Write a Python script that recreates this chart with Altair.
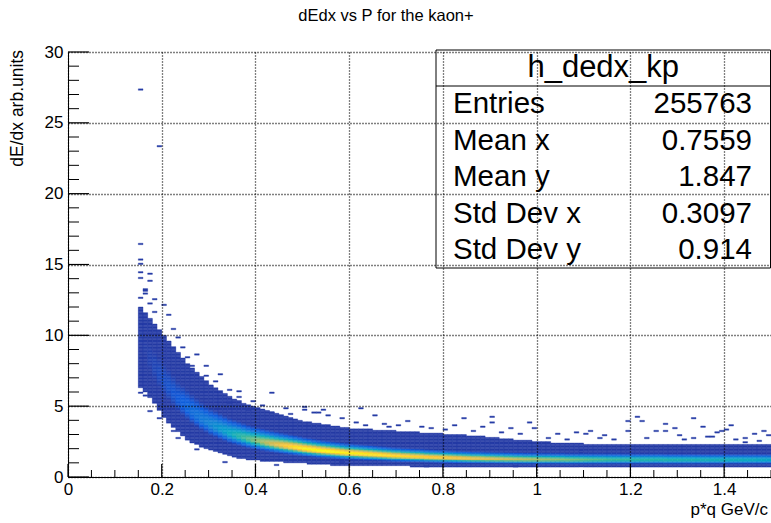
import math
import altair as alt
import pandas as pd

FONT = "Liberation Sans"
W, H = 703, 425
X_BIN, Y_BIN = 0.01, 0.1
FLOOR = 0.045

# ---------------- data ----------------
# left edge of every filled x-bin column (0.15 ... 1.49)
col_x = [round(0.15 + X_BIN * i, 2) for i in range(135)]

# y of the bright ridge (most probable dE/dx) in each column
ridge_y = [
    9.8, 9.0, 8.3, 7.7, 7.2,
    6.7, 6.3, 5.9, 5.5, 5.2,
    4.9, 4.6, 4.35, 4.1, 3.9,
    3.7, 3.55, 3.4, 3.25, 3.1,
    3.0, 2.9, 2.8, 2.7, 2.62,
    2.55, 2.48, 2.42, 2.36, 2.3,
    2.25, 2.2, 2.15, 2.1, 2.05,
    2.0, 1.96, 1.92, 1.88, 1.85,
    1.82, 1.79, 1.76, 1.73, 1.7,
    1.68, 1.66, 1.64, 1.62, 1.6,
    1.58, 1.56, 1.54, 1.52, 1.5,
    1.49, 1.47, 1.46, 1.44, 1.43,
    1.42, 1.4, 1.39, 1.38, 1.37,
    1.36, 1.35, 1.34, 1.33, 1.32,
    1.31, 1.3, 1.3, 1.29, 1.28,
    1.28, 1.27, 1.27, 1.26, 1.26,
    1.25, 1.25, 1.24, 1.24, 1.24,
    1.23, 1.23, 1.23, 1.23, 1.23,
    1.23, 1.22, 1.22, 1.22, 1.22,
    1.22, 1.22, 1.22, 1.22, 1.22,
    1.22, 1.22, 1.22, 1.22, 1.22,
    1.22, 1.22, 1.22, 1.22, 1.22,
    1.22, 1.22, 1.21, 1.21, 1.21,
    1.21, 1.21, 1.21, 1.21, 1.21,
    1.21, 1.21, 1.21, 1.21, 1.21,
    1.21, 1.21, 1.21, 1.21, 1.21,
    1.21, 1.21, 1.21, 1.21, 1.21,
]

# relative height of the ridge (fraction of the maximum bin content)
peak = [
    0.05, 0.05, 0.06, 0.07, 0.08,
    0.09, 0.10, 0.11, 0.12, 0.14,
    0.16, 0.18, 0.20, 0.22, 0.24,
    0.27, 0.30, 0.33, 0.36, 0.40,
    0.44, 0.48, 0.52, 0.56, 0.60,
    0.64, 0.68, 0.72, 0.76, 0.80,
    0.84, 0.88, 0.91, 0.94, 0.96,
    0.98, 0.99, 1.00, 1.00, 1.00,
    1.00, 1.00, 0.99, 0.99, 0.98,
    0.98, 0.97, 0.97, 0.96, 0.96,
    0.95, 0.95, 0.94, 0.94, 0.93,
    0.93, 0.92, 0.92, 0.91, 0.91,
    0.90, 0.90, 0.89, 0.89, 0.88,
    0.88, 0.87, 0.86, 0.86, 0.85,
    0.84, 0.83, 0.82, 0.81, 0.80,
    0.79, 0.78, 0.77, 0.76, 0.75,
    0.74, 0.73, 0.72, 0.71, 0.70,
    0.69, 0.68, 0.67, 0.66, 0.65,
    0.64, 0.63, 0.62, 0.61, 0.60,
    0.59, 0.58, 0.57, 0.56, 0.55,
    0.54, 0.53, 0.53, 0.52, 0.52,
    0.51, 0.51, 0.50, 0.50, 0.50,
    0.49, 0.49, 0.49, 0.48, 0.48,
    0.48, 0.47, 0.47, 0.47, 0.46,
    0.46, 0.46, 0.45, 0.45, 0.45,
    0.45, 0.44, 0.44, 0.44, 0.43,
    0.43, 0.43, 0.42, 0.42, 0.40,
]

# lower and upper edge of the filled band in each column
band_lo = [
    6.3, 6.0, 5.6, 5.2, 4.7,
    4.2, 3.8, 3.5, 3.2, 2.9,
    2.6, 2.45, 2.3, 2.15, 2.0,
    1.9, 1.8, 1.7, 1.6, 1.5,
    1.4, 1.35, 1.3, 1.28, 1.25,
    1.2, 1.18, 1.16, 1.14, 1.12,
    1.1, 1.08, 1.07, 1.06, 1.05,
    1.0, 0.98, 0.96, 0.94, 0.92,
    0.9, 0.88, 0.87, 0.86, 0.85,
    0.85, 0.85, 0.84, 0.84, 0.83,
    0.83, 0.82, 0.82, 0.81, 0.81,
    0.8, 0.8, 0.8, 0.79, 0.79,
    0.79, 0.78, 0.78, 0.78, 0.78,
    0.77, 0.77, 0.77, 0.77, 0.77,
    0.76, 0.76, 0.76, 0.76, 0.76,
    0.75, 0.74, 0.73, 0.72, 0.71,
    0.7, 0.7, 0.7, 0.7, 0.7,
    0.7, 0.7, 0.7, 0.7, 0.7,
    0.7, 0.7, 0.7, 0.7, 0.7,
    0.7, 0.7, 0.7, 0.7, 0.7,
    0.7, 0.7, 0.7, 0.7, 0.7,
    0.7, 0.7, 0.7, 0.7, 0.7,
    0.7, 0.7, 0.7, 0.7, 0.7,
    0.7, 0.7, 0.7, 0.7, 0.7,
    0.7, 0.7, 0.7, 0.7, 0.7,
    0.7, 0.7, 0.7, 0.7, 0.7,
    0.7, 0.7, 0.7, 0.7, 0.7,
]

band_hi = [
    12.0, 11.6, 11.2, 10.8, 10.4,
    10.0, 9.6, 9.2, 8.8, 8.4,
    8.0, 7.7, 7.4, 7.1, 6.8,
    6.5, 6.3, 6.1, 5.9, 5.7,
    5.5, 5.35, 5.2, 5.05, 4.95,
    4.85, 4.75, 4.65, 4.55, 4.45,
    4.35, 4.25, 4.15, 4.05, 3.95,
    3.9, 3.85, 3.8, 3.75, 3.7,
    3.65, 3.6, 3.55, 3.5, 3.45,
    3.4, 3.38, 3.36, 3.34, 3.32,
    3.3, 3.28, 3.26, 3.24, 3.22,
    3.2, 3.18, 3.16, 3.14, 3.12,
    3.1, 3.08, 3.06, 3.04, 3.02,
    3.0, 2.98, 2.96, 2.94, 2.92,
    2.9, 2.87, 2.84, 2.81, 2.78,
    2.75, 2.72, 2.69, 2.66, 2.63,
    2.6, 2.57, 2.54, 2.51, 2.48,
    2.45, 2.43, 2.41, 2.39, 2.37,
    2.35, 2.34, 2.33, 2.32, 2.31,
    2.3, 2.3, 2.29, 2.29, 2.28,
    2.28, 2.27, 2.27, 2.26, 2.26,
    2.25, 2.25, 2.25, 2.25, 2.25,
    2.25, 2.25, 2.24, 2.24, 2.24,
    2.24, 2.24, 2.24, 2.24, 2.24,
    2.24, 2.24, 2.24, 2.24, 2.24,
    2.24, 2.24, 2.24, 2.24, 2.24,
    2.24, 2.24, 2.24, 2.24, 2.24,
]

# isolated single-entry bins outside the band
out_x = [0.15, 0.19, 0.15, 0.15, 0.15, 0.15, 0.17, 0.15, 0.17, 0.16, 0.16, 0.15, 0.18, 0.20,
         0.18, 0.21, 0.16, 0.17, 0.22, 0.23, 0.24, 0.25, 0.26, 0.29, 0.29, 0.27, 0.31, 0.32,
         0.34, 0.36, 0.36, 0.43, 0.34, 0.38, 0.43, 0.50, 0.52, 0.39, 0.41, 0.46, 0.47,
         0.17, 0.19, 0.22, 0.23, 0.27, 0.33, 0.44, 0.16, 0.15,
         0.50, 0.53, 0.54, 0.55, 0.58, 0.61, 0.62, 0.65, 0.67, 0.70, 0.72, 0.75, 0.77, 0.84,
         0.90, 0.90, 0.94, 0.98, 0.58, 0.76, 0.95, 0.63, 0.68, 0.80, 0.86, 0.88, 0.82, 0.92, 0.96,
         0.99, 1.04, 1.08, 1.11, 1.10, 1.19, 1.21, 1.22, 1.19, 1.25, 1.27, 1.27, 1.29, 1.33,
         1.35, 1.38, 1.39, 1.46, 1.49, 1.02, 1.06, 1.13, 1.16, 1.23, 1.31, 1.36, 1.42, 1.44,
         1.47, 1.14, 1.30, 1.41, 1.48, 1.40, 1.37, 1.44, 1.33]
out_y = [27.3, 23.3, 16.4, 15.3, 15.0, 14.4, 14.3, 14.0, 13.8, 13.2, 13.1, 12.6, 12.5, 12.1,
         11.6, 11.4, 12.9, 12.2, 10.4, 9.8, 9.1, 8.4, 7.8, 7.8, 7.1, 8.6, 6.7, 7.2,
         6.1, 6.0, 5.6, 5.9, 5.2, 4.7, 4.5, 4.7, 4.5, 5.3, 5.0, 4.8, 4.4,
         4.6, 4.1, 3.2, 2.75, 1.9, 1.0, 0.85, 5.7, 5.9,
         4.9, 4.5, 4.7, 4.3, 4.1, 3.8, 4.8, 4.3, 3.7, 3.6, 3.9, 3.5, 3.4, 4.1,
         4.2, 3.8, 3.4, 3.8, 1.0, 0.7, 0.7, 3.6, 3.5, 3.3, 3.2, 3.5, 3.6, 3.1, 3.0,
         3.4, 3.0, 3.1, 3.25, 3.0, 3.25, 4.2, 3.9, 3.9, 3.25, 3.7, 3.25, 3.4, 4.1,
         3.5, 3.1, 3.25, 3.0, 2.9, 2.7, 2.6, 2.75, 2.6, 2.7, 2.6, 2.8, 2.6, 2.75,
         2.5, 2.9, 2.9, 3.6, 3.2, 3.3, 2.8, 2.4, 2.75]

# axis ticks
x_major = [0, 0.2, 0.4, 0.6, 0.8, 1, 1.2, 1.4]
x_minor = [0.05, 0.1, 0.15, 0.25, 0.3, 0.35, 0.45, 0.5, 0.55, 0.65, 0.7, 0.75, 0.85, 0.9,
           0.95, 1.05, 1.1, 1.15, 1.25, 1.3, 1.35, 1.45, 1.5]
y_major = [0, 5, 10, 15, 20, 25, 30]
y_minor = [1, 2, 3, 4, 6, 7, 8, 9, 11, 12, 13, 14, 16, 17, 18, 19, 21, 22, 23, 24, 26, 27, 28, 29]

# statistics box
stat_names = ["Entries", "Mean x", "Mean y", "Std Dev x", "Std Dev y"]
stat_values = ["255763", "0.7559", "1.847", "0.3097", "0.914"]

# ROOT kBird palette
kbird_stops = [0, 0.125, 0.25, 0.375, 0.5, 0.625, 0.75, 0.875, 1.0]
kbird_colors = ["#352a87", "#0f5cdd", "#1481d6", "#06a4ca", "#2eb7a4",
                "#87bf77", "#d1bb59", "#fec832", "#f9fb0e"]

# ---------------- build the histogram cells ----------------
cells = []
for i, x0 in enumerate(col_x):
    R, lo, hi, pk = ridge_y[i], band_lo[i], band_hi[i], peak[i]
    k0 = int(math.floor(lo / Y_BIN + 1e-9))
    k1 = int(math.floor(hi / Y_BIN - 1e-9))
    for k in range(k0, k1 + 1):
        yc = (k + 0.5) * Y_BIN
        s = (0.17 if yc >= R else 0.11) * R
        v = pk * math.exp(-0.5 * ((yc - R) / s) ** 2)
        cells.append({"x0": x0, "x1": round(x0 + X_BIN, 2), "y0": round(k * Y_BIN, 2),
                      "y1": round((k + 1) * Y_BIN, 2), "level": max(v, FLOOR)})
for x, y in zip(out_x, out_y):
    xb = math.floor(x / X_BIN + 1e-9) * X_BIN
    yb = math.floor(y / Y_BIN + 1e-9) * Y_BIN
    cells.append({"x0": xb, "x1": xb + X_BIN, "y0": yb, "y1": yb + Y_BIN, "level": FLOOR})
cells_df = pd.DataFrame(cells)

xscale = alt.Scale(domain=[0, 1.5], nice=False, zero=False)
yscale = alt.Scale(domain=[0, 30], nice=False, zero=False)
cscale = alt.Scale(domain=kbird_stops, range=kbird_colors, interpolate="rgb")

axis_common = dict(grid=True, gridDash=[1, 2], gridColor="black", gridOpacity=1, gridWidth=1.3,
                   domainColor="black", domainWidth=1, ticks=True, tickSize=0,
                   labelFont=FONT, labelFontSize=17, labelColor="black", title=None,
                   zindex=1, labelOverlap=False, labelFlush=False, format="~g")
XAXIS = alt.Axis(values=x_major, labelPadding=4, **axis_common)
YAXIS = alt.Axis(values=y_major, labelPadding=5, **axis_common)

heat = alt.Chart(cells_df).mark_rect(strokeWidth=0.4).encode(
    x=alt.X("x0:Q", scale=xscale, axis=XAXIS),
    x2="x1:Q",
    y=alt.Y("y0:Q", scale=yscale, axis=YAXIS),
    y2="y1:Q",
    color=alt.Color("level:Q", scale=cscale, legend=None),
    stroke=alt.Color("level:Q", scale=cscale, legend=None),
)

xmaj = alt.Chart(pd.DataFrame({"x0": x_major})).mark_rule(color="black", strokeWidth=1.2).encode(
    x=alt.X("x0:Q", scale=xscale, axis=XAXIS), y=alt.value(H), y2=alt.value(H - 13))
xmin = alt.Chart(pd.DataFrame({"x0": x_minor})).mark_rule(color="black", strokeWidth=1).encode(
    x=alt.X("x0:Q", scale=xscale, axis=XAXIS), y=alt.value(H), y2=alt.value(H - 7))
ymaj = alt.Chart(pd.DataFrame({"y0": y_major})).mark_rule(color="black", strokeWidth=1.2).encode(
    y=alt.Y("y0:Q", scale=yscale, axis=YAXIS), x=alt.value(0), x2=alt.value(21))
ymin = alt.Chart(pd.DataFrame({"y0": y_minor})).mark_rule(color="black", strokeWidth=1).encode(
    y=alt.Y("y0:Q", scale=yscale, axis=YAXIS), x=alt.value(0), x2=alt.value(11))

one = pd.DataFrame({"_": [0]})


def label(text, x, y, size, align="center", angle=0):
    return alt.Chart(one).mark_text(text=text, font=FONT, fontSize=size, align=align,
                                    baseline="middle", angle=angle, color="black").encode(
        x=alt.value(x), y=alt.value(y))


title = label("dEdx vs P for the kaon+", 318, -36, 16.5)
ytitle = label("dE/dx arb.units", -50, -2, 17.5, align="right", angle=270)
xtitle = label("p*q GeV/c", 700, H + 33, 17, align="right")

BOX_L, BOX_R, BOX_T, BOX_B, SEP = 368, 702.5, -2, 216, 34
box = alt.Chart(one).mark_rect(fill="white", stroke="black", strokeWidth=1).encode(
    x=alt.value(BOX_L), x2=alt.value(BOX_R), y=alt.value(BOX_T), y2=alt.value(BOX_B))
sep = alt.Chart(one).mark_rule(color="black", strokeWidth=1).encode(
    x=alt.value(BOX_L), x2=alt.value(BOX_R), y=alt.value(SEP))
layers = [heat, xmaj, xmin, ymaj, ymin, box, sep, title, ytitle, xtitle,
          label("h_dedx_kp", (BOX_L + BOX_R) / 2, 16, 31)]
for i, (n, v) in enumerate(zip(stat_names, stat_values)):
    yy = 52 + i * 36.5
    layers.append(label(n, 385, yy, 29.5, align="left"))
    layers.append(label(v, 684, yy, 29.5, align="right"))

chart = alt.layer(*layers).properties(
    width=W, height=H,
    autosize=alt.AutoSizeParams(type="none"),
    padding={"left": 68, "top": 52, "right": 0, "bottom": 46},
    background="white",
).configure_view(stroke=None)

chart.save("out.html", embed_options={"renderer": "svg", "actions": False})
